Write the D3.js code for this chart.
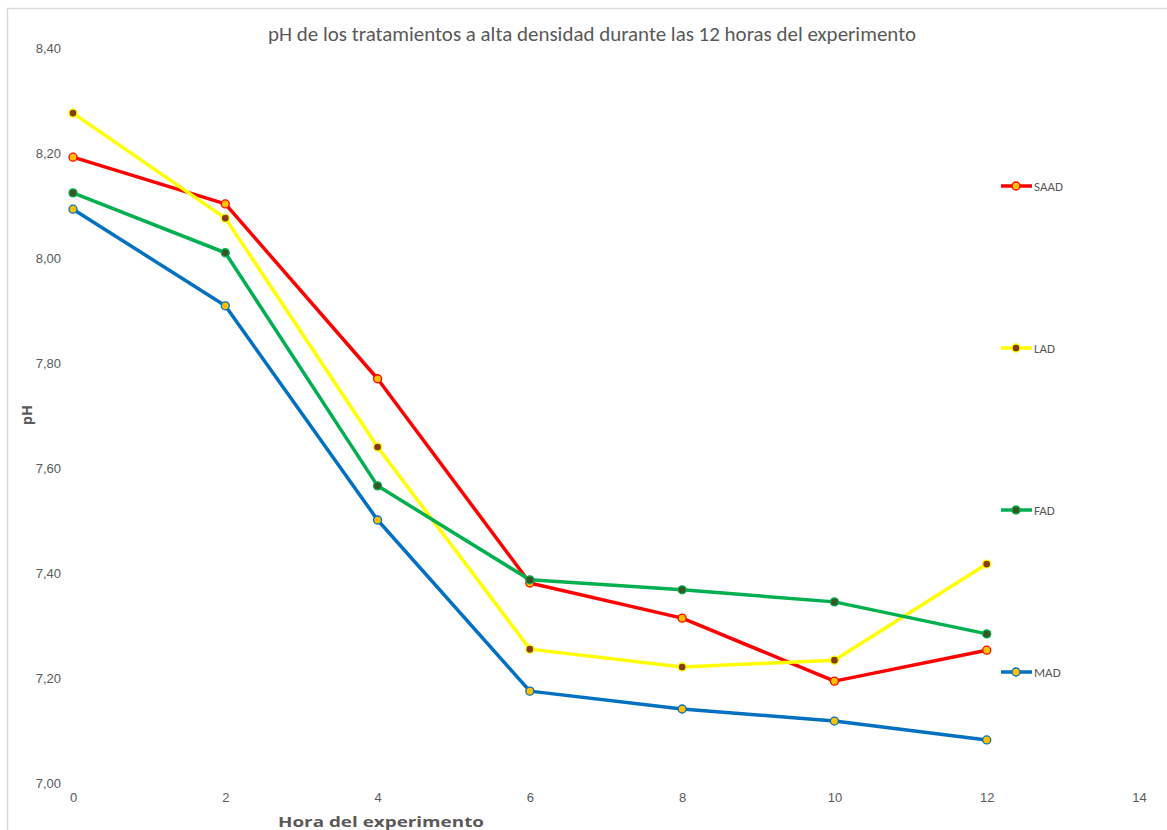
<!DOCTYPE html>
<html>
<head>
<meta charset="utf-8">
<script src="https://cdn.jsdelivr.net/npm/d3@7"></script>
<style>
html,body{margin:0;padding:0;background:#fff;}
svg{display:block;font-family:Calibri,Carlito,"Liberation Sans","Open Sans",sans-serif;}
</style>
</head>
<body>
<svg id="chart" width="1167" height="830"></svg>
<script>
const hours = [0, 2, 4, 6, 8, 10, 12];
const xTicks = [0, 2, 4, 6, 8, 10, 12, 14];
const yTicks = [7.0, 7.2, 7.4, 7.6, 7.8, 8.0, 8.2, 8.4];
const seriesNames = ["SAAD", "LAD", "FAD", "MAD"];
const saad = [8.192, 8.103, 7.770, 7.381, 7.314, 7.194, 7.253];
const lad  = [8.276, 8.076, 7.640, 7.255, 7.221, 7.234, 7.417];
const fad  = [8.124, 8.010, 7.566, 7.387, 7.368, 7.345, 7.284];
const mad  = [8.093, 7.909, 7.501, 7.175, 7.141, 7.118, 7.082];
const titleText = "pH de los tratamientos a alta densidad durante las 12 horas del experimento";
const xTitle = "Hora del experimento";
const yTitle = "pH";

const styles = {
  SAAD: {line: "#FF0000", fill: "#FFC000", stroke: "#FF0000"},
  LAD:  {line: "#FFFF00", fill: "#843C0C", stroke: "#FFFF00"},
  FAD:  {line: "#00B050", fill: "#375623", stroke: "#00B050"},
  MAD:  {line: "#0070C0", fill: "#FFC000", stroke: "#0070C0"}
};
const seriesData = [saad, lad, fad, mad];
const legendY = [186, 348, 510, 672];

const svg = d3.select("#chart");
// outer border
svg.append("path").attr("d", "M7.5,830 L7.5,8.5 L1167,8.5")
  .attr("fill", "none").attr("stroke", "#D9D9D9").attr("stroke-width", 1.5);

const x = d3.scaleLinear().domain([0, 14]).range([73, 1139]);
const y = d3.scaleLinear().domain([7.0, 8.4]).range([783, 48]);

const fmt = d => d3.format(".2f")(d).replace(".", ",");

// y axis labels
const yAxis = d3.axisLeft(y).tickValues(yTicks).tickFormat(fmt).tickSize(0).tickPadding(0);
const gy = svg.append("g").attr("transform", "translate(61,0)").call(yAxis);
gy.select(".domain").remove();
gy.selectAll("text").attr("fill", "#595959").attr("font-size", 13);

// x axis labels
const xAxis = d3.axisBottom(x).tickValues(xTicks).tickFormat(d3.format("d")).tickSize(0).tickPadding(0);
const gx = svg.append("g").attr("transform", "translate(0,793)").call(xAxis);
gx.select(".domain").remove();
gx.selectAll("text").attr("fill", "#595959").attr("font-size", 13);

// title
svg.append("text").attr("x", 592).attr("y", 41).attr("text-anchor", "middle")
  .attr("fill", "#595959").attr("font-size", 20.5)
  .attr("textLength", 648).attr("lengthAdjust", "spacingAndGlyphs").text(titleText);

// axis titles
svg.append("text").attr("x", 381).attr("y", 827).attr("text-anchor", "middle")
  .attr("fill", "#595959").attr("font-size", 14.5).attr("font-weight", "bold")
  .style("font-family", "'Open Sans', sans-serif")
  .attr("textLength", 206).attr("lengthAdjust", "spacingAndGlyphs").text(xTitle);
svg.append("text").attr("transform", "translate(32,415) rotate(-90)").attr("text-anchor", "middle")
  .attr("fill", "#595959").attr("font-size", 14.5).attr("font-weight", "bold")
  .style("font-family", "'Open Sans', sans-serif").text(yTitle);

const line = d3.line().x((d, i) => x(hours[i])).y(d => y(d));

seriesNames.forEach((name, k) => {
  const st = styles[name];
  const vals = seriesData[k];
  const g = svg.append("g");
  g.append("path").datum(vals).attr("d", line).attr("fill", "none")
    .attr("stroke", st.line).attr("stroke-width", 3.5).attr("stroke-linejoin", "round");
  g.selectAll("circle").data(vals).join("circle")
    .attr("cx", (d, i) => x(hours[i])).attr("cy", d => y(d)).attr("r", 4)
    .attr("fill", st.fill).attr("stroke", st.stroke).attr("stroke-width", 1.3);
  // legend
  const ly = legendY[k];
  const lg = svg.append("g");
  lg.append("line").attr("x1", 1001).attr("x2", 1032).attr("y1", ly).attr("y2", ly)
    .attr("stroke", st.line).attr("stroke-width", 3.5);
  lg.append("circle").attr("cx", 1016).attr("cy", ly).attr("r", 4)
    .attr("fill", st.fill).attr("stroke", st.stroke).attr("stroke-width", 1.3);
  lg.append("text").attr("x", 1034).attr("y", ly).attr("dy", "0.35em")
    .attr("fill", "#595959").attr("font-size", 13).text(name);
});
</script>
</body>
</html>
